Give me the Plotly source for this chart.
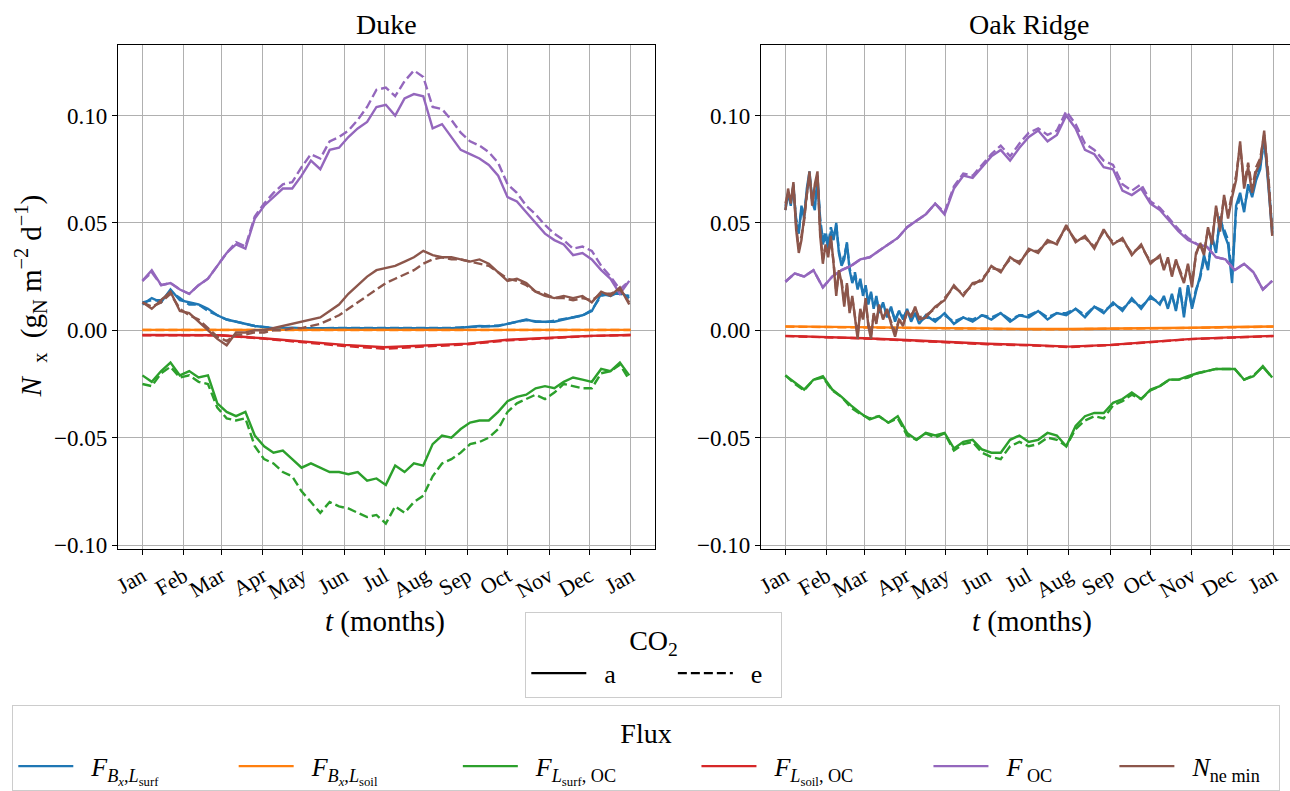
import plotly.graph_objects as go

# ---------------- data ----------------
month_labels = ["Jan", "Feb", "Mar", "Apr", "May", "Jun", "Jul", "Aug", "Sep", "Oct", "Nov", "Dec", "Jan"]
month_days = [0, 31, 59, 90, 120, 151, 181, 212, 243, 273, 304, 334, 365]
week_days = list(range(0, 365, 7))  # 53 weekly samples
# denser sampling where the Oak Ridge series oscillate strongly
oak_dense_days = ([0, 2, 4, 6, 8, 10, 12, 14, 16, 18, 20, 22, 24, 26, 28, 30, 32, 34, 36, 38,
                   40, 42, 44, 46, 48, 50, 52, 54, 56, 58, 60, 62, 64, 66, 68, 70, 73, 76, 79, 82,
                   85, 88, 91, 94, 97, 100]
                  + list(range(105, 281, 7))
                  + list(range(283, 365, 3)))

y_ticks = [-0.10, -0.05, 0.0, 0.05, 0.10]
y_ticklabels = ["\u22120.10", "\u22120.05", "0.00", "0.05", "0.10"]

# ---- Duke ----
duke_B_surf_a = [0.012, 0.015, 0.013, 0.019, 0.014, 0.013, 0.012, 0.010, 0.007, 0.005,
                 0.004, 0.003, 0.002, 0.0015, 0.001, 0.001, 0.0012, 0.001, 0.001, 0.0009,
                 0.001, 0.0008, 0.001, 0.0009, 0.001, 0.0008, 0.001, 0.0009, 0.001, 0.0008,
                 0.001, 0.0009, 0.001, 0.001, 0.0012, 0.0015, 0.002, 0.0018, 0.002, 0.003,
                 0.004, 0.005, 0.004, 0.004, 0.004, 0.005, 0.006, 0.007, 0.009, 0.017,
                 0.016, 0.018, 0.015]
duke_B_surf_e = [0.013, 0.014, 0.014, 0.018, 0.015, 0.012, 0.012, 0.009, 0.007, 0.005,
                 0.004, 0.003, 0.002, 0.0014, 0.001, 0.001, 0.001, 0.0011, 0.0009, 0.001,
                 0.0009, 0.001, 0.0008, 0.001, 0.0009, 0.001, 0.0009, 0.001, 0.0008, 0.001,
                 0.0009, 0.001, 0.001, 0.0011, 0.0013, 0.0016, 0.0019, 0.002, 0.0022, 0.003,
                 0.0038, 0.0048, 0.0042, 0.0038, 0.0045, 0.0052, 0.0058, 0.0068, 0.0095, 0.016,
                 0.017, 0.017, 0.016]
duke_B_soil_a = [0.0002, 0.0002, 0.0002, 0.0001, 0.0001, 0.0001, 0.0001, 0.0001, 0.0001, 0.0001, 0.0002, 0.0002, 0.0002]
duke_B_soil_e = [0.0001, 0.0001, 0.0001, 0.0000, 0.0000, 0.0000, 0.0000, 0.0000, 0.0000, 0.0001, 0.0001, 0.0001, 0.0001]
duke_L_surf_a = [-0.021, -0.024, -0.019, -0.015, -0.021, -0.019, -0.022, -0.021, -0.034, -0.038,
                 -0.040, -0.038, -0.049, -0.054, -0.057, -0.056, -0.060, -0.064, -0.062, -0.064,
                 -0.066, -0.066, -0.067, -0.066, -0.070, -0.069, -0.072, -0.063, -0.066, -0.062,
                 -0.063, -0.053, -0.049, -0.050, -0.046, -0.043, -0.042, -0.042, -0.038, -0.033,
                 -0.031, -0.030, -0.027, -0.026, -0.027, -0.024, -0.022, -0.023, -0.024, -0.018,
                 -0.019, -0.015, -0.021]
duke_L_surf_e = [-0.025, -0.026, -0.020, -0.017, -0.022, -0.021, -0.024, -0.025, -0.036, -0.041,
                 -0.042, -0.041, -0.054, -0.060, -0.062, -0.066, -0.068, -0.075, -0.080, -0.085,
                 -0.080, -0.082, -0.083, -0.085, -0.087, -0.086, -0.090, -0.082, -0.085, -0.080,
                 -0.077, -0.068, -0.062, -0.060, -0.057, -0.053, -0.052, -0.050, -0.046, -0.038,
                 -0.034, -0.032, -0.030, -0.032, -0.029, -0.025, -0.026, -0.027, -0.027, -0.020,
                 -0.019, -0.016, -0.023]
duke_L_soil_a = [-0.0022, -0.0022, -0.0023, -0.0037, -0.0053, -0.0068, -0.0079, -0.0070, -0.0062, -0.0044, -0.0034, -0.0026, -0.0022]
duke_L_soil_e = [-0.0023, -0.0023, -0.0024, -0.0039, -0.0056, -0.0073, -0.0086, -0.0074, -0.0065, -0.0047, -0.0036, -0.0027, -0.0022]
duke_OC_a = [0.023, 0.028, 0.021, 0.022, 0.019, 0.017, 0.021, 0.024, 0.030, 0.036,
             0.040, 0.038, 0.052, 0.058, 0.062, 0.066, 0.066, 0.072, 0.079, 0.075,
             0.084, 0.085, 0.090, 0.094, 0.097, 0.104, 0.105, 0.100, 0.108, 0.110,
             0.109, 0.094, 0.096, 0.090, 0.084, 0.082, 0.080, 0.077, 0.072, 0.062,
             0.060, 0.055, 0.050, 0.045, 0.042, 0.040, 0.035, 0.036, 0.033, 0.028,
             0.024, 0.017, 0.023]
duke_OC_e = [0.023, 0.027, 0.021, 0.022, 0.019, 0.017, 0.021, 0.024, 0.030, 0.036,
             0.041, 0.039, 0.053, 0.059, 0.064, 0.068, 0.069, 0.076, 0.082, 0.080,
             0.088, 0.090, 0.093, 0.098, 0.104, 0.112, 0.113, 0.109, 0.116, 0.121,
             0.118, 0.104, 0.103, 0.098, 0.092, 0.088, 0.086, 0.083, 0.078, 0.068,
             0.064, 0.058, 0.054, 0.049, 0.045, 0.042, 0.038, 0.039, 0.037, 0.030,
             0.025, 0.019, 0.023]
duke_Nmin_a = [0.013, 0.010, 0.014, 0.018, 0.009, 0.008, 0.004, 0.000, -0.004, -0.007,
               -0.001, -0.001, 0.000, 0.000, 0.001, 0.002, 0.003, 0.004, 0.005, 0.006,
               0.009, 0.012, 0.017, 0.021, 0.025, 0.028, 0.029, 0.030, 0.032, 0.034,
               0.037, 0.035, 0.034, 0.034, 0.033, 0.032, 0.033, 0.031, 0.027, 0.023,
               0.024, 0.022, 0.018, 0.016, 0.015, 0.016, 0.015, 0.016, 0.013, 0.018,
               0.016, 0.020, 0.012]
duke_Nmin_e = [0.013, 0.011, 0.013, 0.017, 0.010, 0.007, 0.005, 0.001, -0.003, -0.005,
               -0.002, -0.002, -0.001, -0.001, 0.000, 0.000, 0.001, 0.001, 0.002, 0.003,
               0.005, 0.007, 0.010, 0.013, 0.016, 0.019, 0.022, 0.024, 0.026, 0.028,
               0.031, 0.033, 0.034, 0.033, 0.033, 0.032, 0.031, 0.030, 0.027, 0.024,
               0.023, 0.021, 0.018, 0.017, 0.015, 0.015, 0.014, 0.015, 0.014, 0.017,
               0.017, 0.019, 0.013]

# ---- Oak Ridge ----
oak_B_surf_a = [0.056, 0.064, 0.058, 0.068, 0.050, 0.045, 0.058, 0.052, 0.066, 0.074,
                0.060, 0.056, 0.072, 0.050, 0.040, 0.044, 0.038, 0.046, 0.042, 0.050,
                0.036, 0.030, 0.033, 0.041, 0.028, 0.022, 0.026, 0.019, 0.024, 0.016,
                0.021, 0.012, 0.018, 0.010, 0.016, 0.008, 0.013, 0.006, 0.011, 0.004,
                0.009, 0.005, 0.010, 0.004, 0.008, 0.003,
                0.007, 0.004, 0.008, 0.003, 0.006, 0.004, 0.007, 0.005, 0.008, 0.004,
                0.007, 0.006, 0.009, 0.005, 0.008, 0.007, 0.010, 0.006, 0.011, 0.008,
                0.013, 0.009, 0.015, 0.010, 0.016, 0.012,
                0.016, 0.010, 0.017, 0.009, 0.020, 0.006, 0.021, 0.010, 0.018, 0.025,
                0.035, 0.028, 0.044, 0.036, 0.053, 0.045, 0.040, 0.022, 0.058, 0.064,
                0.055, 0.068, 0.062, 0.070, 0.075, 0.090, 0.068, 0.045]
oak_B_surf_e = [0.058, 0.062, 0.060, 0.066, 0.052, 0.047, 0.056, 0.054, 0.064, 0.072,
                0.062, 0.058, 0.070, 0.052, 0.042, 0.046, 0.040, 0.048, 0.043, 0.049,
                0.037, 0.031, 0.035, 0.040, 0.029, 0.023, 0.027, 0.020, 0.023, 0.017,
                0.020, 0.013, 0.017, 0.011, 0.015, 0.009, 0.012, 0.007, 0.010, 0.005,
                0.009, 0.006, 0.009, 0.005, 0.008, 0.004,
                0.006, 0.005, 0.007, 0.004, 0.006, 0.005, 0.007, 0.006, 0.008, 0.005,
                0.007, 0.007, 0.009, 0.006, 0.008, 0.008, 0.010, 0.007, 0.011, 0.009,
                0.012, 0.010, 0.014, 0.011, 0.015, 0.013,
                0.015, 0.011, 0.016, 0.010, 0.019, 0.008, 0.020, 0.011, 0.019, 0.024,
                0.033, 0.030, 0.042, 0.038, 0.051, 0.047, 0.042, 0.026, 0.056, 0.062,
                0.057, 0.066, 0.064, 0.072, 0.077, 0.088, 0.071, 0.047]
oak_B_soil_a = [0.0018, 0.0016, 0.0013, 0.0010, 0.0008, 0.0007, 0.0006, 0.0006, 0.0007, 0.0009, 0.0012, 0.0015, 0.0018]
oak_B_soil_e = [0.0017, 0.0015, 0.0012, 0.0009, 0.0007, 0.0006, 0.0005, 0.0005, 0.0006, 0.0008, 0.0011, 0.0014, 0.0017]
oak_L_surf_a = [-0.021, -0.0245, -0.0276, -0.023, -0.0214, -0.0276, -0.031, -0.035, -0.0385, -0.0415,
                -0.040, -0.043, -0.040, -0.0478, -0.051, -0.0478, -0.049, -0.0478, -0.055, -0.052,
                -0.051, -0.0555, -0.057, -0.057, -0.051, -0.049, -0.052, -0.051, -0.0478, -0.049,
                -0.054, -0.0446, -0.040, -0.0385, -0.0385, -0.0338, -0.032, -0.029, -0.032, -0.0276,
                -0.026, -0.023, -0.023, -0.0214, -0.020, -0.019, -0.018, -0.018, -0.018, -0.023,
                -0.0214, -0.0167, -0.022]
oak_L_surf_e = [-0.021, -0.025, -0.028, -0.023, -0.022, -0.028, -0.031, -0.036, -0.039, -0.041,
                -0.040, -0.043, -0.041, -0.049, -0.051, -0.048, -0.050, -0.048, -0.056, -0.053,
                -0.052, -0.057, -0.059, -0.060, -0.054, -0.052, -0.054, -0.053, -0.050, -0.051,
                -0.054, -0.046, -0.042, -0.040, -0.041, -0.035, -0.033, -0.030, -0.032, -0.028,
                -0.026, -0.023, -0.023, -0.022, -0.020, -0.019, -0.018, -0.018, -0.018, -0.023,
                -0.021, -0.017, -0.022]
oak_L_soil_a = [-0.0026, -0.0030, -0.0037, -0.0045, -0.0055, -0.0063, -0.0068, -0.0076, -0.0068, -0.0053, -0.0040, -0.0033, -0.0026]
oak_L_soil_e = [-0.0027, -0.0031, -0.0038, -0.0047, -0.0057, -0.0065, -0.0070, -0.0078, -0.0069, -0.0054, -0.0041, -0.0034, -0.0027]
oak_OC_a = [0.0226, 0.0265, 0.025, 0.028, 0.020, 0.025, 0.028, 0.030, 0.033, 0.034,
            0.037, 0.040, 0.043, 0.048, 0.051, 0.054, 0.059, 0.054, 0.066, 0.072,
            0.071, 0.076, 0.081, 0.084, 0.079, 0.085, 0.090, 0.093, 0.088, 0.091,
            0.100, 0.094, 0.084, 0.082, 0.076, 0.075, 0.065, 0.063, 0.066, 0.059,
            0.056, 0.051, 0.046, 0.042, 0.040, 0.039, 0.034, 0.033, 0.028, 0.031,
            0.027, 0.019, 0.023]
oak_OC_e = [0.0226, 0.0265, 0.025, 0.028, 0.020, 0.025, 0.028, 0.030, 0.033, 0.034,
            0.037, 0.040, 0.043, 0.048, 0.051, 0.054, 0.059, 0.055, 0.067, 0.073,
            0.072, 0.077, 0.082, 0.086, 0.081, 0.087, 0.092, 0.094, 0.091, 0.093,
            0.102, 0.096, 0.087, 0.084, 0.079, 0.077, 0.068, 0.065, 0.068, 0.060,
            0.057, 0.052, 0.047, 0.043, 0.040, 0.039, 0.034, 0.033, 0.028, 0.031,
            0.027, 0.019, 0.023]
oak_Nmin_a = [0.056, 0.066, 0.059, 0.069, 0.047, 0.036, 0.042, 0.053, 0.065, 0.074,
              0.058, 0.068, 0.074, 0.044, 0.031, 0.040, 0.034, 0.044, 0.031, 0.016,
              0.028, 0.022, 0.011, 0.022, 0.008, 0.016, 0.006, -0.004, 0.010, 0.005,
              0.015, 0.002, -0.004, 0.008, 0.003, 0.012, 0.005, 0.010, 0.003, -0.003,
              0.005, 0.002, 0.009, 0.006, 0.011, 0.005,
              0.006, 0.011, 0.014, 0.021, 0.016, 0.022, 0.023, 0.030, 0.027, 0.034,
              0.031, 0.038, 0.036, 0.042, 0.040, 0.049, 0.041, 0.044, 0.038, 0.047,
              0.040, 0.043, 0.035, 0.040, 0.031, 0.035,
              0.028, 0.034, 0.025, 0.033, 0.027, 0.022, 0.031, 0.020, 0.036, 0.040,
              0.035, 0.048, 0.040, 0.058, 0.046, 0.063, 0.052, 0.062, 0.070, 0.088,
              0.066, 0.076, 0.064, 0.074, 0.078, 0.093, 0.070, 0.044]
oak_Nmin_e = [0.059, 0.064, 0.061, 0.067, 0.049, 0.038, 0.044, 0.051, 0.063, 0.072,
              0.060, 0.066, 0.072, 0.046, 0.033, 0.039, 0.036, 0.042, 0.032, 0.018,
              0.027, 0.023, 0.013, 0.021, 0.009, 0.015, 0.007, -0.002, 0.009, 0.006,
              0.013, 0.003, -0.002, 0.007, 0.004, 0.011, 0.006, 0.009, 0.004, -0.001,
              0.005, 0.003, 0.008, 0.007, 0.010, 0.006,
              0.007, 0.010, 0.015, 0.020, 0.017, 0.021, 0.024, 0.029, 0.028, 0.033,
              0.032, 0.037, 0.037, 0.041, 0.041, 0.048, 0.042, 0.043, 0.039, 0.046,
              0.041, 0.042, 0.036, 0.039, 0.032, 0.034,
              0.029, 0.033, 0.026, 0.032, 0.028, 0.023, 0.030, 0.022, 0.035, 0.041,
              0.036, 0.047, 0.042, 0.057, 0.048, 0.062, 0.054, 0.064, 0.072, 0.086,
              0.068, 0.078, 0.066, 0.076, 0.080, 0.091, 0.073, 0.046]

flux_names = [
    "<i>F</i><sub><i>B</i><sub><i>x</i></sub>,<i>L</i><sub>surf</sub></sub>",
    "<i>F</i><sub><i>B</i><sub><i>x</i></sub>,<i>L</i><sub>soil</sub></sub>",
    "<i>F</i><sub><i>L</i><sub>surf</sub>, OC</sub>",
    "<i>F</i><sub><i>L</i><sub>soil</sub>, OC</sub>",
    "<i>F</i><sub> OC</sub>",
    "<i>N</i><sub>ne min</sub>",
]
flux_colors = ["#1f77b4", "#ff7f0e", "#2ca02c", "#d62728", "#9467bd", "#8c564b"]
co2_names = ["a", "e"]

sites = {
    "Duke": [
        (week_days, duke_B_surf_a, duke_B_surf_e),
        (month_days, duke_B_soil_a, duke_B_soil_e),
        (week_days, duke_L_surf_a, duke_L_surf_e),
        (month_days, duke_L_soil_a, duke_L_soil_e),
        (week_days, duke_OC_a, duke_OC_e),
        (week_days, duke_Nmin_a, duke_Nmin_e),
    ],
    "Oak Ridge": [
        (oak_dense_days, oak_B_surf_a, oak_B_surf_e),
        (month_days, oak_B_soil_a, oak_B_soil_e),
        (week_days, oak_L_surf_a, oak_L_surf_e),
        (month_days, oak_L_soil_a, oak_L_soil_e),
        (week_days, oak_OC_a, oak_OC_e),
        (oak_dense_days, oak_Nmin_a, oak_Nmin_e),
    ],
}

for s in sites.values():
    for xs, ya, ye in s:
        assert len(xs) == len(ya) == len(ye), (len(xs), len(ya), len(ye))

# ---------------- figure ----------------
W, H = 1290, 791
LW = 2.4
DASH = "9px,4px"
FONT = "Liberation Serif"
PAD = "\u2002"
EM = "\u2003"
TH = "\u2009"
co2_trail = [EM + EM, PAD]
flux_trail = [EM + EM + PAD + TH, EM + EM + PAD + TH + TH, EM + EM + PAD + TH + TH,
              EM + EM + PAD + TH, EM + EM + TH, PAD]

fig = go.Figure()
axes = [("x", "y"), ("x2", "y2")]
for (site, series), (xa, ya_) in zip(sites.items(), axes):
    for (xs, va, ve), col in zip(series, flux_colors):
        for vals, dash in ((va, "solid"), (ve, DASH)):
            fig.add_trace(go.Scatter(
                x=xs, y=vals, mode="lines", xaxis=xa, yaxis=ya_,
                line=dict(color=col, width=LW, dash=dash),
                showlegend=False, hoverinfo="skip"))

# legend entries: CO2
for name, dash, tr in zip(co2_names, ("solid", DASH), co2_trail):
    fig.add_trace(go.Scatter(x=[None], y=[None], mode="lines", name=PAD + name + tr,
                             line=dict(color="black", width=LW, dash=dash),
                             legend="legend", showlegend=True))
# legend entries: Flux
for name, col, tr in zip(flux_names, flux_colors, flux_trail):
    fig.add_trace(go.Scatter(x=[None], y=[None], mode="lines", name=PAD + name + tr,
                             line=dict(color=col, width=LW),
                             legend="legend2", showlegend=True))

y_dom = [1 - 549.3 / H, 1 - 45 / H]
y_rng = [-0.10167, 0.13288]

common_x = dict(tickvals=month_days, ticktext=month_labels, tickangle=-30,
                showgrid=True, gridcolor="#b0b0b0", gridwidth=1.2,
                showline=True, linecolor="black", linewidth=1.3, mirror=True,
                ticks="outside", ticklen=5, tickwidth=1.3, tickcolor="black",
                zeroline=False, automargin=False, tickfont=dict(size=22, family=FONT))
common_y = dict(tickvals=y_ticks, ticktext=y_ticklabels, range=y_rng, domain=y_dom,
                showgrid=True, gridcolor="#b0b0b0", gridwidth=1.2,
                showline=True, linecolor="black", linewidth=1.3, mirror=True,
                ticks="outside", ticklen=5, tickwidth=1.3, tickcolor="black",
                zeroline=False, automargin=False, tickfont=dict(size=23, family=FONT))

fig.update_layout(
    width=W, height=H,
    margin=dict(l=0, r=0, t=0, b=0),
    paper_bgcolor="white", plot_bgcolor="white",
    font=dict(family=FONT, size=24, color="black"),
    xaxis=dict(domain=[118 / W, 655 / W], range=[-18.25, 383.25], anchor="y", **common_x),
    yaxis=dict(anchor="x", **common_y),
    xaxis2=dict(domain=[761 / W, 1.0], range=[-18.25, 377.3], anchor="y2", **common_x),
    yaxis2=dict(anchor="x2", **common_y),
    legend=dict(x=525 / W, y=1 - 612 / H, xanchor="left", yanchor="top",
                orientation="h", bgcolor="white", bordercolor="#cccccc", borderwidth=1.3,
                title=dict(text="CO<sub>2</sub>", side="top center", font=dict(size=28)),
                font=dict(size=26, family=FONT), itemwidth=55),
    legend2=dict(x=12 / W, y=1 - 706 / H, xanchor="left", yanchor="top",
                 orientation="h", bgcolor="white", bordercolor="#cccccc", borderwidth=1.3,
                 title=dict(text="Flux", side="top center", font=dict(size=28)),
                 font=dict(size=26, family=FONT), itemwidth=55),
    annotations=[
        dict(text="Duke", x=386.5 / W, y=1 - 25 / H, xref="paper", yref="paper",
             xanchor="center", yanchor="middle", showarrow=False, font=dict(size=28)),
        dict(text="Oak Ridge", x=1029 / W, y=1 - 25 / H, xref="paper", yref="paper",
             xanchor="center", yanchor="middle", showarrow=False, font=dict(size=28)),
        dict(text="<i>t</i> (months)", x=385 / W, y=1 - 622 / H, xref="paper", yref="paper",
             xanchor="center", yanchor="middle", showarrow=False, font=dict(size=29)),
        dict(text="<i>t</i> (months)", x=1032 / W, y=1 - 622 / H, xref="paper", yref="paper",
             xanchor="center", yanchor="middle", showarrow=False, font=dict(size=29)),
        dict(text="<i>N</i>  <sub>x</sub>  (g<sub>N</sub> m<sup>\u22122</sup> d<sup>\u22121</sup>)",
             x=30 / W, y=1 - 297 / H, xref="paper", yref="paper", textangle=-90,
             xanchor="center", yanchor="middle", showarrow=False, font=dict(size=29)),
    ],
)

fig.write_html("out.html")
